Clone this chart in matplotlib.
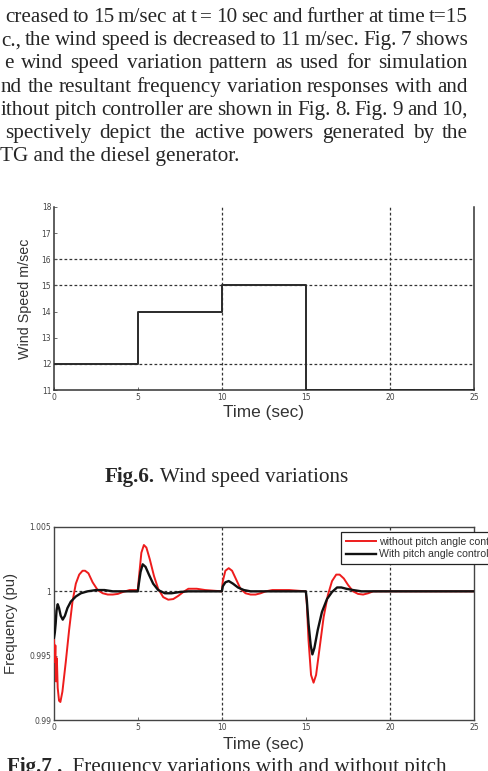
import matplotlib
matplotlib.use("Agg")
import matplotlib.pyplot as plt

# ---- page text (left part cut off in the scan) ----
para_lines = [
    "creased to 15 m/sec at t = 10 sec and further at time t=15",
    "c., the wind speed is decreased to 11 m/sec.  Fig. 7 shows",
    "e wind speed variation pattern as used for simulation",
    "nd the resultant frequency variation responses with and",
    "ithout pitch controller are shown in Fig. 8. Fig. 9 and 10,",
    "spectively depict the active powers generated by the",
    "TG and the diesel generator.",
]
para_x0 = [5, 1, 4, 1, 1, 5, 0]

# ---- Fig.6 wind speed ----
wind_t = [0, 5, 10, 15, 25]
wind_v = [12, 14, 15, 11, 11]
wind_yticks = [11, 12, 13, 14, 15, 16, 17, 18]
time_ticks = [0, 5, 10, 15, 20, 25]

# ---- Fig.7 frequency ----
red_t = [0.00, 0.05, 0.08, 0.12, 0.17, 0.22, 0.30, 0.38, 0.50, 0.70, 0.90, 1.10,
         1.30, 1.50, 1.70, 1.85, 2.05, 2.30, 2.60, 2.90, 3.20, 3.50, 3.80, 4.10,
         4.50, 4.99, 5.05, 5.20, 5.35, 5.50, 5.70, 5.95, 6.20, 6.50, 6.80, 7.10,
         7.40, 7.70, 8.00, 8.50, 9.00, 9.99, 10.05, 10.20, 10.40, 10.60, 10.85,
         11.10, 11.40, 11.70, 12.00, 12.30, 12.60, 13.0, 14.0, 14.99, 15.05,
         15.15, 15.30, 15.45, 15.60, 15.80, 16.05, 16.30, 16.55, 16.80, 17.00,
         17.25, 17.50, 17.80, 18.10, 18.40, 18.70, 19.0, 20.0, 25.0]
red_f = [0.9962, 0.9945, 0.9958, 0.9930, 0.9948, 0.9925, 0.9915, 0.9914, 0.9922,
         0.9945, 0.9970, 0.9992, 1.0006, 1.0013, 1.0016, 1.0016, 1.0014, 1.0007,
         1.0001, 0.99985, 0.99975, 0.99975, 0.9998, 0.99995, 1.0001, 1.0001,
         1.0010, 1.0030, 1.0036, 1.0034, 1.0025, 1.0012, 1.0002, 0.99955, 0.99935,
         0.9994, 0.99965, 0.99995, 1.0002, 1.0002, 1.0001, 1.0, 1.0008, 1.0016,
         1.0018, 1.0016, 1.0009, 1.0002, 0.99985, 0.99975, 0.99975, 0.99985, 1.0,
         1.0001, 1.0001, 1.0, 0.9990, 0.9962, 0.9935, 0.9929, 0.9935, 0.9955,
         0.9980, 0.9997, 1.0008, 1.0013, 1.0013, 1.0010, 1.0005, 1.0000, 0.9998,
         0.99975, 0.99985, 1.0, 1.0, 1.0]
blk_t = [0.00, 0.05, 0.10, 0.15, 0.22, 0.30, 0.40, 0.52, 0.65, 0.80, 1.00, 1.30,
         1.60, 2.00, 2.50, 3.00, 3.50, 4.99, 5.05, 5.15, 5.28, 5.45, 5.65, 5.90,
         6.20, 6.60, 7.00, 7.50, 8.0, 9.99, 10.05, 10.20, 10.40, 10.65, 10.95,
         11.30, 11.70, 14.99, 15.05, 15.15, 15.28, 15.38, 15.50, 15.70, 15.95,
         16.25, 16.55, 16.85, 17.10, 17.40, 17.80, 18.3, 25.0]
blk_f = [0.9964, 0.9968, 0.9975, 0.9985, 0.9990, 0.9987, 0.9981, 0.9978, 0.9981,
         0.9987, 0.9992, 0.9996, 0.99985, 1.0, 1.0001, 1.0001, 1.0, 1.0, 1.0006,
         1.0015, 1.0021, 1.0019, 1.0013, 1.0006, 1.0001, 0.99985, 0.99985,
         0.99995, 1.0, 1.0, 1.0004, 1.0007, 1.0008, 1.0006, 1.0003, 1.0001, 1.0,
         1.0, 0.9993, 0.9975, 0.9958, 0.9951, 0.9956, 0.9970, 0.9984, 0.9994,
         0.99995, 1.0003, 1.0003, 1.0002, 1.0001, 1.0, 1.0]
freq_yticks = [0.99, 0.995, 1.0, 1.005]
freq_ylabels = ["0.99", "0.995", "1", "1.005"]
legend_labels = ["without pitch angle control", "With pitch angle control"]

W, H = 489, 771
fig = plt.figure(figsize=(W / 100, H / 100), dpi=100)
fig.patch.set_facecolor("white")
renderer = fig.canvas.get_renderer()

txt_color = "#262626"
serif = dict(family="Liberation Serif", fontsize=15.2, color=txt_color,
             va="baseline")


def place_runs(runs, x0, y_base):
    # runs: list of (text, weight); place them one after another
    x = x0
    for s, wt in runs:
        t = fig.text(x / W, 1 - y_base / H, s, fontweight=wt, **serif)
        x += t.get_window_extent(renderer).width


def justify(line, x0, x1, y_base):
    words = line.split()
    texts = [fig.text(0, 1 - y_base / H, w, **serif) for w in words]
    widths = [t.get_window_extent(renderer).width for t in texts]
    gap = (x1 - x0 - sum(widths)) / (len(words) - 1)
    x = x0
    for t, w in zip(texts, widths):
        t.set_x(x / W)
        x += w + gap


# paragraph
for i, (line, x0) in enumerate(zip(para_lines, para_x0)):
    yb = 22 + 23.2 * i
    if i == len(para_lines) - 1:
        place_runs([(line, "normal")], x0, yb)
    else:
        justify(line, x0, 468, yb)

grid_kw = dict(color="#333333", linestyle=(0, (2.2, 1.8)), linewidth=0.9,
               zorder=1)
sans = "Liberation Sans"
tick_kw = dict(labelsize=5.5, labelcolor="#444444", direction="in", length=2,
               width=0.6, color="#555555")

# ---- chart 1 ----
ax1 = fig.add_axes([54 / W, 1 - 390 / H, 420 / W, 183 / H])
for y in [12, 15, 16]:
    ax1.axhline(y, **grid_kw)
for x in [10, 20]:
    ax1.axvline(x, **grid_kw)
ax1.plot(wind_t, wind_v, drawstyle="steps-post", color="#2a2a2a", linewidth=1.4,
         zorder=3)
ax1.set_xlim(0, 25)
ax1.set_ylim(11, 18)
ax1.set_xticks(time_ticks)
ax1.set_yticks(wind_yticks)
ax1.tick_params(**tick_kw)
ax1.tick_params(axis="x", pad=2)
ax1.tick_params(axis="y", pad=2)
for s in ["left", "bottom", "right"]:
    ax1.spines[s].set_color("#333333")
    ax1.spines[s].set_linewidth(1.1)
ax1.spines["top"].set_visible(False)
fig.text(25 / W, 1 - 299 / H, "Wind Speed m/sec", rotation=90, family=sans,
         fontsize=10.3, color="#333333", ha="center", va="center")
fig.text(264 / W, 1 - 413 / H, "Time (sec)", family=sans, fontsize=12.4,
         color="#333333", ha="center", va="center")
place_runs([("Fig.6.", "bold"), (" Wind speed variations", "normal")], 105, 482)

# ---- chart 2 ----
ax2 = fig.add_axes([54 / W, 1 - 720 / H, 420 / W, 193 / H])
ax2.axhline(1.0, **grid_kw)
for x in [10, 20]:
    ax2.axvline(x, **grid_kw)
ax2.plot(red_t, red_f, color="#ee1c1c", linewidth=1.4, zorder=3,
         label=legend_labels[0])
ax2.plot(blk_t, blk_f, color="#111111", linewidth=1.7, zorder=4,
         label=legend_labels[1])
ax2.set_xlim(0, 25)
ax2.set_ylim(0.99, 1.005)
ax2.set_xticks(time_ticks)
ax2.set_yticks(freq_yticks)
ax2.set_yticklabels(freq_ylabels)
ax2.tick_params(**tick_kw)
ax2.tick_params(axis="x", pad=2)
ax2.tick_params(axis="y", pad=2)
for s in ax2.spines.values():
    s.set_color("#444444")
    s.set_linewidth(1.0)
leg = ax2.legend(loc="upper left", bbox_to_anchor=(0.683, 0.975), frameon=True,
                 fancybox=False, prop=dict(family=sans, size=7.6),
                 handlelength=2.9, handletextpad=0.3, borderpad=0.45,
                 labelspacing=0.25, borderaxespad=0)
leg.get_frame().set_edgecolor("#222222")
leg.get_frame().set_linewidth(0.9)
leg.get_frame().set_alpha(1)
for t in leg.get_texts():
    t.set_color("#333333")
fig.text(11 / W, 1 - 624 / H, "Frequency (pu)", rotation=90, family=sans,
         fontsize=10.7, color="#333333", ha="center", va="center")
fig.text(264 / W, 1 - 744 / H, "Time (sec)", family=sans, fontsize=12.4,
         color="#333333", ha="center", va="center")
place_runs([("Fig.7 .", "bold"),
            ("  Frequency variations with and without pitch", "normal")], 7, 772)

fig.savefig("out.png", dpi=100)
